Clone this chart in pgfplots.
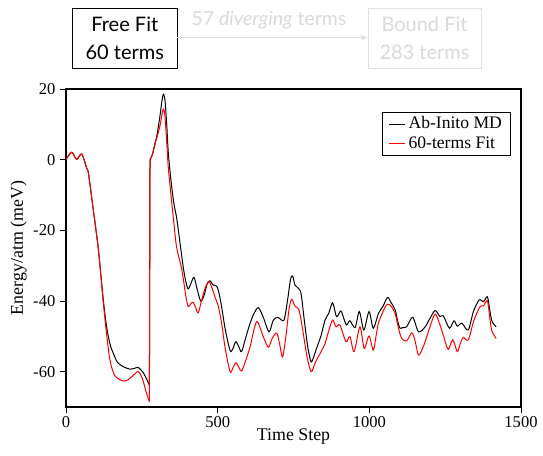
\documentclass[border=0pt]{standalone}
\usepackage{pgfplots}
\pgfplotsset{compat=1.18}
\usepackage{fontspec}
\setmainfont{Liberation Serif}
\newfontfamily\lato{Lato}
\usetikzlibrary{arrows.meta}
\begin{document}
\begin{tikzpicture}
\path[use as bounding box] (-49.5pt,-36pt) rectangle (357.75pt,305.25pt);
\begin{axis}[
  at={(0pt,0pt)}, anchor=south west,
  scale only axis, width=341.25pt, height=238.5pt,
  xmin=0, xmax=1500, ymin=-70, ymax=20,
  xtick={0,500,1000,1500}, xticklabels={0,500,1000,1500},
  ytick={-60,-40,-20,0,20}, yticklabels={-60,-40,-20,0,20},
  tick align=outside, major tick length=4.5pt,
  xtick pos=lower, ytick pos=left,
  axis line style={line width=0.8pt},
  tick style={line width=0.6pt, black},
  tick label style={font=\fontsize{12.4}{14}\selectfont},
  xticklabel style={yshift=1pt},
  label style={font=\fontsize{13.4}{15}\selectfont},
  xlabel={Time Step}, ylabel={Energy/atm (meV)},
  xlabel style={yshift=6pt},
  ylabel style={yshift=-2pt},
  legend style={at={(0.978,0.928)}, anchor=north east, draw=black, line width=0.6pt,
     font=\fontsize{13.2}{13}\selectfont, inner xsep=4.5pt, inner ysep=1.5pt, row sep=0pt,
     cells={anchor=west, text height=9pt, text depth=2.3pt, inner ysep=0.3pt, inner xsep=3pt}},
  legend image code/.code={\draw[#1, line width=0.7pt] (0pt,0pt) -- (12.5pt,0pt);},
]
% Black: Ab-Initio MD
\addplot[black, line width=0.75pt, smooth] coordinates {
(0,0) (19,2.1) (35,0.1) (52,1.6) (68,-2.4) (74,-3.9) (90,-14.2) (107,-25.6) (123,-39.7) (134,-47.3) (145,-52.2) (156,-54.8) (170,-57.4) (189,-58.6) (211,-59.3) (225,-59.1) (238,-58.8) (255,-60.3) (268,-62.5) (275,-63.8)
};
\addlegendentry{Ab-Inito MD}
\addplot[black, line width=0.75pt, forget plot] coordinates {(275,-63.8) (277,0)};
\addplot[black, line width=0.75pt, smooth, forget plot] coordinates {
(277,0) (285,1.5) (293,4.5) (300,7) (310,12.5) (316,16.5) (321,18.5) (326,17) (332,10) (337,2.3) (345,-5) (355,-12) (365,-16.6) (375,-23) (387,-30.7) (395,-34.5) (403,-36.6) (412,-35) (422,-33.3) (432,-36.5) (444,-40) (455,-38.5) (466,-35) (475,-34.3) (485,-35.5) (497,-35.8) (505,-38) (513,-41.6) (525,-48) (541,-54) (550,-53.5) (560,-51.5) (570,-53) (579,-54.3) (592,-50.5) (607,-46.3) (620,-43.5) (634,-41.9) (650,-44.5) (669,-48.7) (683,-45.5) (697,-44.6) (708,-45.2) (719,-45.4) (730,-40) (740,-34) (747,-32.9) (755,-35.5) (766,-36.4) (775,-38) (785,-45) (797,-53) (808,-57.2) (817,-55.7) (826,-53.4) (840,-50) (854,-45.4) (866,-43.5) (879,-40.5) (892,-44.4) (906,-42.8) (916,-45) (925,-46.8) (936,-45.6) (953,-47.5) (967,-43) (982,-48.2) (999,-43) (1013,-47.7) (1030,-43.5) (1045,-41.5) (1060,-39) (1072,-40.5) (1085,-42.5) (1093,-45.5) (1101,-47.7) (1110,-47.5) (1123,-47.3) (1143,-44.6) (1162,-48.7) (1184,-47.3) (1200,-44.9) (1217,-42.7) (1233,-44.4) (1244,-44.2) (1264,-47.7) (1279,-45.6) (1290,-47.1) (1305,-46.3) (1326,-48.2) (1343,-43) (1362,-39.7) (1376,-40.2) (1389,-38.8) (1396,-42) (1403,-45.4) (1410,-46.5) (1418,-47.3)
};
% Red: 60-terms Fit
\addplot[red, line width=0.75pt, smooth] coordinates {
(0,0) (19,2.1) (35,0.1) (52,1.6) (68,-2.4) (74,-3.9) (90,-14.2) (107,-25.6) (123,-40.5) (134,-49.5) (145,-56.7) (160,-61) (184,-62.5) (200,-62.5) (220,-61.2) (238,-60) (252,-62) (265,-66) (275,-68.5)
};
\addlegendentry{60-terms Fit}
\addplot[red, line width=0.75pt, forget plot] coordinates {(275,-68.5) (277,0)};
\addplot[red, line width=0.75pt, smooth, forget plot] coordinates {
(277,0) (285,1.5) (293,4.2) (308,8.9) (316,12.5) (321,14.3) (326,12.5) (332,5) (337,-2) (345,-9) (354,-16.6) (365,-25) (381,-30.7) (395,-38.5) (403,-41.6) (411,-40.8) (420,-40.4) (428,-42) (436,-43.3) (448,-39.5) (460,-36) (472,-34.5) (482,-36.5) (491,-38.8) (502,-41.5) (513,-46.3) (525,-53.5) (541,-60) (550,-59) (560,-57.5) (570,-58.8) (579,-59.8) (592,-57) (607,-52.9) (620,-48) (631,-45.8) (650,-50) (667,-53.1) (680,-50.5) (695,-49.1) (705,-52.5) (714,-55.8) (725,-50) (735,-42.5) (744,-39.5) (755,-41.5) (768,-42.5) (780,-48) (795,-56) (808,-60) (817,-58.5) (826,-56.7) (840,-54.5) (854,-52) (866,-48.5) (879,-45.4) (890,-47.3) (903,-46.8) (923,-51.5) (936,-50.1) (950,-54.3) (969,-47.3) (983,-53.4) (999,-49.9) (1013,-53.9) (1022,-50) (1030,-46.3) (1045,-43) (1059,-40.9) (1072,-41.5) (1085,-43.5) (1097,-48) (1107,-50.6) (1123,-51.3) (1140,-49) (1150,-51) (1162,-55.3) (1175,-53.5) (1184,-51.5) (1200,-47.3) (1217,-43.7) (1233,-46.8) (1245,-50) (1260,-53.7) (1275,-51) (1290,-54.3) (1300,-52) (1310,-50.3) (1326,-51) (1345,-45.4) (1365,-41.6) (1376,-41.4) (1389,-39.9) (1396,-44) (1403,-48.2) (1410,-49.5) (1418,-50.6)
};
\end{axis}
% top diagram
\node[draw=black, line width=0.6pt, minimum width=78.2pt, minimum height=44.5pt, inner sep=0pt,
  align=center, font={\lato\fontsize{15}{21}\selectfont}] at (44.1pt,276.5pt) {Free Fit\\60 terms};
\node[draw=gray!25, line width=0.6pt, text=gray!30, minimum width=84.75pt, minimum height=44.5pt, inner sep=0pt,
  align=center, font={\lato\fontsize{15}{21}\selectfont}] at (268.9pt,276.5pt) {Bound Fit\\283 terms};
\draw[gray!25, line width=0.6pt, -{Stealth[length=5pt,width=4pt]}] (83.25pt,277pt) -- (226pt,277pt);
\node[text=gray!30, font={\lato\fontsize{14.6}{16}\selectfont}] at (152.25pt,290pt) {57 \textit{diverging} terms};
\end{tikzpicture}
\end{document}
